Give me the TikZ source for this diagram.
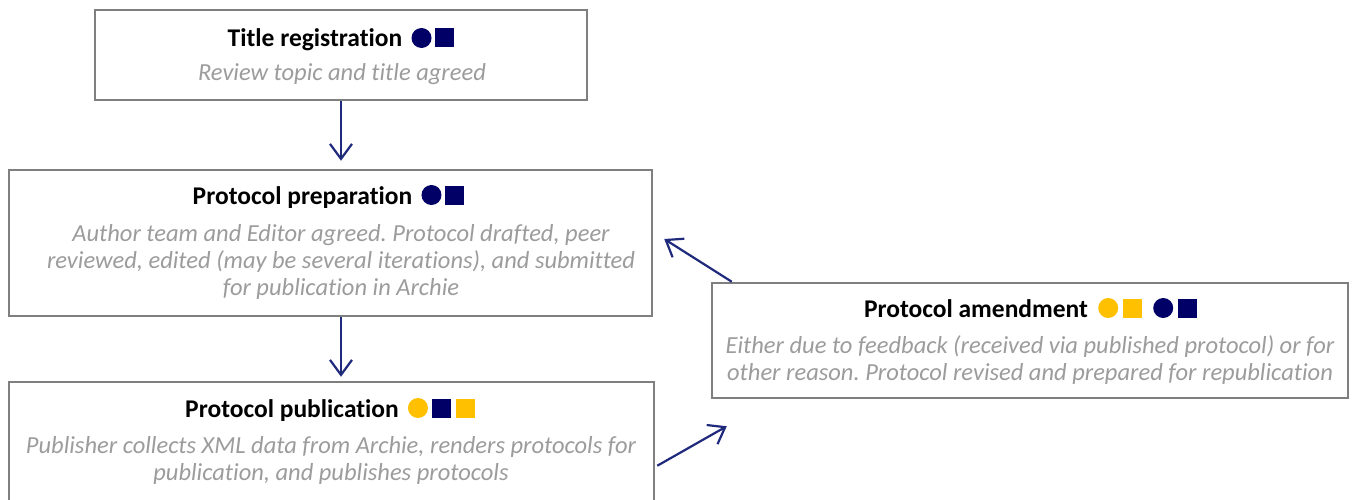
\documentclass[tikz,border=0pt]{standalone}
\usepackage{fontspec}
\setmainfont[Ligatures=NoCommon]{Carlito}
\usetikzlibrary{arrows.meta,calc}
\definecolor{navy}{HTML}{000066}
\definecolor{gold}{HTML}{FFC000}
\definecolor{boxgray}{HTML}{7F7F7F}
\definecolor{txtgray}{HTML}{9C9C9C}
\definecolor{arrowblue}{HTML}{1F2A7C}
\frenchspacing
\begin{document}
\begin{tikzpicture}[x=1pt,y=-1pt,
  box/.style={draw=boxgray,line width=2.5pt,fill=white,inner sep=0pt,rectangle},
  ttl/.style={font=\bfseries\fontsize{25.5}{30}\selectfont,inner sep=0pt,anchor=base},
  sub/.style={font=\itshape\fontsize{24.5}{27}\selectfont,text=txtgray,align=center,inner sep=0pt,anchor=north},
  cdot/.style={circle,fill=#1,minimum size=20pt,inner sep=0pt},
  csq/.style={rectangle,fill=#1,minimum size=19pt,inner sep=0pt},
  arr/.style={draw=arrowblue,line width=2.2pt,-{Straight Barb[length=15pt,width=22pt]}}]
\useasboundingbox (0,0) rectangle (1357,500);
\begin{scope}
\clip (0,0) rectangle (1357,500);
% boxes
\node[box,minimum width=492pt,minimum height=90pt] (title) at (341,55) {};
\node[box,minimum width=643pt,minimum height=146pt] (prep) at (330.5,243) {};
\node[box,minimum width=645pt,minimum height=138pt] (pub) at (331.5,451) {};
\node[box,minimum width=636pt,minimum height=115pt] (amend) at (1030,340.5) {};
% title registration
\node[ttl] (t1) at (315,47) {Title registration};
\node[cdot=navy] (t1a) at ($(t1.base east)+(19,-9)$) {};
\node[csq=navy] (t1b) at ($(t1a)+(23,0)$) {};
\node[sub] (s1) at (342,61) {\strut Review topic and title agreed};
% protocol preparation
\node[ttl] (t2) at (302.5,204) {Protocol preparation};
\node[cdot=navy] (t2a) at ($(t2.base east)+(19,-9)$) {};
\node[csq=navy] (t2b) at ($(t2a)+(23,0)$) {};
\node[sub] (s2) at (341,222) {\strut Author team and Editor agreed. Protocol drafted, peer\\ reviewed, edited (may be several iterations), and submitted\\ for publication in Archie};
% protocol publication
\node[ttl] (t3) at (292,417) {Protocol publication};
\node[cdot=gold] (t3a) at ($(t3.base east)+(19,-9)$) {};
\node[csq=navy] (t3b) at ($(t3a)+(24,0)$) {};
\node[csq=gold] (t3c) at ($(t3b)+(24,0)$) {};
\node[sub] (s3) at (331,434) {\strut Publisher collects XML data from Archie, renders protocols for\\ publication, and publishes protocols};
% protocol amendment
\node[ttl] (t4) at (976,317) {Protocol amendment};
\node[cdot=gold] (t4a) at ($(t4.base east)+(20,-9)$) {};
\node[csq=gold] (t4b) at ($(t4a)+(24,0)$) {};
\node[cdot=navy] (t4c) at ($(t4b)+(31,0)$) {};
\node[csq=navy] (t4d) at ($(t4c)+(24,0)$) {};
\node[sub] (s4) at (1030,334) {\strut Either due to feedback (received via published protocol) or for\\ other reason. Protocol revised and prepared for republication};
% arrows
\draw[arr] (title.south) -- ($(title.south |- prep.north)+(0,-8)$);
\draw[arr] (title.south |- prep.south) -- ($(title.south |- pub.north)+(0,-4)$);
\draw[arr] ($(amend.north west)+(21,0)$) -- ($(prep.east)+(11,-4)$);
\draw[arr] ($(pub.north east)+(2,85)$) -- ($(amend.south west)+(16,27)$);
\end{scope}
\end{tikzpicture}
\end{document}
